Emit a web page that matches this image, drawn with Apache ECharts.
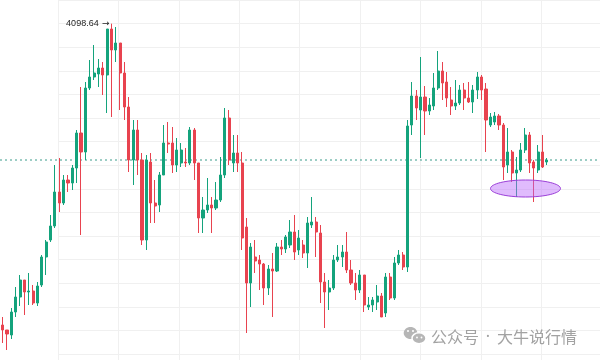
<!DOCTYPE html>
<html><head><meta charset="utf-8">
<script src="https://cdn.jsdelivr.net/npm/echarts@6/dist/echarts.min.js"></script>
<style>html,body{margin:0;padding:0;background:#fff}#c{width:600px;height:360px}</style>
</head><body><div id="c"></div>
<script>
const opens = [3496,3486,3476,3522,3552,3586,3562,3564,3540,3576,
3632,3666,3694,3762,3740,3786,3780,3810,3880,3842,
3970,3992,3998,4010,3996,4088,4046,4060,4000,3932,
3826,3886,3826,3666,3822,3740,3736,3796,3860,3860,
3816,3820,3822,3820,3886,3820,3710,3726,3736,3730,
3746,3796,3910,3820,3840,3820,3692,3580,3632,3626,
3618,3570,3608,3604,3652,3648,3656,3682,3646,3656,
3640,3696,3702,3680,3582,3562,3570,3626,3632,3642,
3606,3580,3566,3596,3532,3536,3542,3554,3520,3592,
3550,3620,3636,3612,3896,3954,3926,3952,3924,3934,
3970,4004,3982,3946,3934,3940,3966,3950,3942,3966,
3992,3968,3896,3902,3914,3896,3816,3842,3800,3806,
3846,3876,3822,3806,3842,3822];
const closes = [3486,3478,3522,3552,3586,3562,3564,3540,3574,3632,
3662,3694,3762,3740,3786,3780,3810,3880,3842,3970,
3992,4000,4010,3996,4088,4046,4060,4000,3932,3826,
3886,3826,3666,3826,3740,3734,3796,3860,3858,3816,
3846,3846,3820,3886,3820,3710,3726,3736,3730,3746,
3796,3910,3826,3840,3820,3670,3580,3652,3624,3618,
3570,3608,3604,3652,3648,3672,3682,3642,3670,3640,
3700,3702,3682,3582,3562,3570,3626,3632,3642,3606,
3580,3566,3596,3536,3536,3546,3554,3512,3592,3550,
3620,3636,3612,3894,3954,3930,3952,3924,3936,3970,
4004,3980,3950,3934,3940,3966,3950,3942,3966,3992,
3966,3906,3912,3914,3896,3812,3842,3800,3806,3846,
3876,3820,3810,3842,3812,3826];
const lows = [3460,3446,3468,3512,3534,3516,3536,3536,3534,3572,
3596,3662,3690,3722,3736,3762,3766,3780,3676,3826,
3966,3986,3972,3956,3920,3912,4022,3926,3906,3802,
3776,3796,3656,3646,3700,3700,3722,3796,3840,3800,
3802,3812,3812,3816,3786,3680,3680,3720,3680,3726,
3742,3790,3816,3802,3802,3646,3480,3532,3600,3566,
3536,3556,3512,3602,3636,3640,3650,3626,3636,3630,
3610,3690,3632,3540,3490,3526,3566,3622,3612,3600,
3576,3546,3560,3522,3526,3522,3526,3512,3512,3546,
3546,3616,3606,3602,3876,3906,3830,3876,3916,3926,
3966,3946,3932,3916,3926,3936,3926,3940,3920,3948,
3946,3842,3892,3896,3886,3786,3800,3782,3752,3802,
3840,3800,3742,3800,3810,3816];
const highs = [3512,3486,3530,3572,3596,3586,3600,3576,3582,3636,
3666,3716,3816,3830,3796,3796,3816,3886,3972,3982,
4026,4056,4028,4022,4088,4098.64,4092,4060,4022,3952,
3906,3906,3840,3836,3840,3786,3802,3896,3902,3892,
3870,3860,3850,3892,3890,3820,3752,3790,3752,3782,
3832,3930,3926,3876,3876,3842,3710,3660,3666,3636,
3620,3616,3640,3660,3666,3676,3706,3716,3686,3666,
3712,3752,3712,3696,3600,3586,3636,3656,3656,3682,
3626,3600,3606,3596,3552,3552,3576,3560,3600,3600,
3632,3646,3642,3906,3982,3966,4032,3974,3950,4000,
4044,4022,4002,3972,3986,3976,3980,3982,3976,4002,
3996,3980,3920,3922,3918,3900,3890,3846,3832,3860,
3890,3882,3826,3856,3876,3830];
const dashLevel = 3826;
const watermarkParts = ['公众号', '·', '大牛说行情'];

const categories = opens.map((_, i) => 'K' + (i + 1));
const candleData = opens.map((o, i) => [o, closes[i], lows[i], highs[i]]);

const UP = '#14a37c', DOWN = '#e8434f';
const chart = echarts.init(document.getElementById('c'), null, {renderer: 'canvas'});
const wmFont = '16px "Noto Sans CJK SC", sans-serif';
chart.setOption({
  animation: false,
  backgroundColor: '#ffffff',
  grid: [
    {left: 0.5, right: 50.9, top: 0, bottom: 0},
    {left: 58, right: 0, top: 0, bottom: 0},
    {left: 0, right: 0, top: 0, bottom: 0}
  ],
  xAxis: [
    {type: 'category', data: categories, gridIndex: 0, show: false, boundaryGap: true},
    {type: 'value', gridIndex: 1, min: 0, max: 542, interval: 60.4,
     axisLine: {show: false}, axisTick: {show: false}, axisLabel: {show: false},
     splitLine: {show: true, lineStyle: {color: '#f0f0f0', width: 1}}},
    {type: 'value', gridIndex: 2, min: 0, max: 1, show: false}
  ],
  yAxis: [
    {type: 'value', gridIndex: 0, min: 3426, max: 4146, show: false, splitLine: {show: false}},
    {type: 'value', gridIndex: 1, min: 0, max: 360, interval: 23.6, inverse: true,
     axisLine: {show: false}, axisTick: {show: false}, axisLabel: {show: false},
     splitLine: {show: true, lineStyle: {color: '#f0f0f0', width: 1}}},
    {type: 'value', gridIndex: 2, min: 3426, max: 4146, show: false, splitLine: {show: false}}
  ],
  series: [
    {
      type: 'line', xAxisIndex: 2, yAxisIndex: 2,
      data: [[0, dashLevel], [1, dashLevel]],
      symbol: 'none', z: 1,
      lineStyle: {color: '#3a9c8b', width: 1, type: [2, 3]}
    },
    {
      type: 'candlestick', xAxisIndex: 0, yAxisIndex: 0,
      data: candleData, barWidth: 2.6, z: 3,
      itemStyle: {color: UP, color0: DOWN, borderColor: UP, borderColor0: DOWN, borderWidth: 1},
      markPoint: {
        symbol: 'circle', symbolSize: 2,
        itemStyle: {color: 'rgba(0,0,0,0)'},
        data: [{type: 'max', valueDim: 'highest'}],
        label: {
          show: true, position: 'left', distance: 1,
          formatter: p => '{t|' + p.value.toFixed(2) + '} {a|\u2192}',
          rich: {
            t: {fontFamily: 'Liberation Sans, Arial, sans-serif', fontSize: 9, color: '#1e1e1e'},
            a: {fontFamily: 'DejaVu Sans, sans-serif', fontSize: 9, color: '#1e1e1e'}
          }
        }
      }
    }
  ],
  graphic: [
    {type: 'ellipse', shape: {cx: 525.5, cy: 188.5, rx: 35, ry: 8.5}, z: 100,
     style: {fill: 'rgba(186,104,250,0.45)', stroke: '#9b3ed8', lineWidth: 1}},
    {type: 'ellipse', shape: {cx: 410.5, cy: 333, rx: 6.8, ry: 6}, z: 100,
     style: {fill: '#b6b6b6'}},
    {type: 'circle', shape: {cx: 408, cy: 331, r: 1}, z: 101, style: {fill: '#ffffff'}},
    {type: 'circle', shape: {cx: 413, cy: 331, r: 1}, z: 101, style: {fill: '#ffffff'}},
    {type: 'ellipse', shape: {cx: 419, cy: 338.3, rx: 7, ry: 5.5}, z: 102,
     style: {fill: '#b6b6b6', stroke: '#ffffff', lineWidth: 1.5}},
    {type: 'circle', shape: {cx: 417, cy: 337.5, r: 0.9}, z: 103, style: {fill: '#ffffff'}},
    {type: 'circle', shape: {cx: 421.5, cy: 337.5, r: 0.9}, z: 103, style: {fill: '#ffffff'}},
    {type: 'text', x: 431, y: 337, z: 100,
     style: {text: watermarkParts[0], fill: '#a2a2a2', font: wmFont, verticalAlign: 'middle', align: 'left'}},
    {type: 'text', x: 488, y: 337, z: 100,
     style: {text: watermarkParts[1], fill: '#a2a2a2', font: '16px "Noto Sans", sans-serif', verticalAlign: 'middle', align: 'center'}},
    {type: 'text', x: 497, y: 337, z: 100,
     style: {text: watermarkParts[2], fill: '#a2a2a2', font: wmFont, verticalAlign: 'middle', align: 'left'}}
  ]
});
</script></body></html>
